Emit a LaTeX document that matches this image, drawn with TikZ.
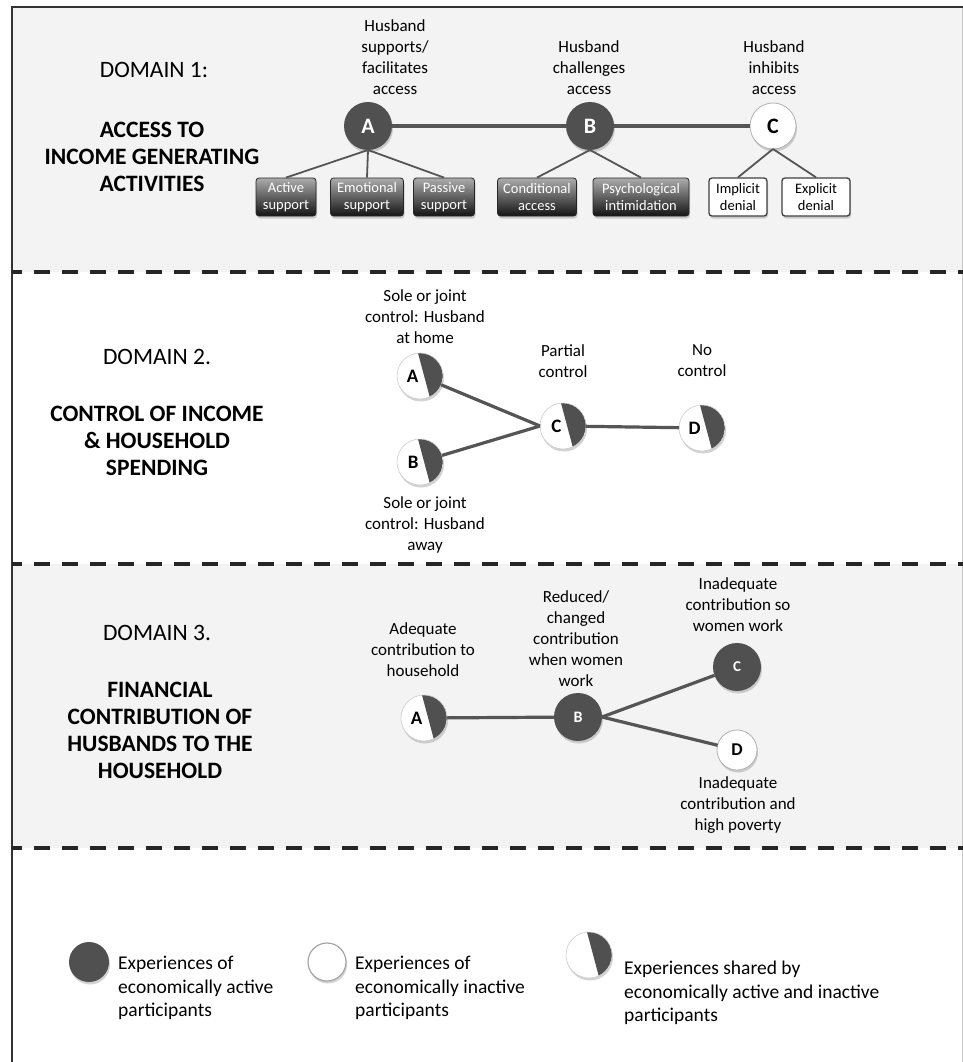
\documentclass[tikz,border=0pt]{standalone}
\usepackage{fontspec}
\setmainfont{Carlito}
\usetikzlibrary{shadows,calc}
\definecolor{dk}{HTML}{505050}
\definecolor{bg}{HTML}{F3F3F3}
\definecolor{ln}{HTML}{555555}
\newcommand{\lft}[1]{\makebox[0pt][r]{#1\hspace{1.5pt}}}
\begin{document}
\begin{tikzpicture}[x=1pt,y=1pt,
  lbl/.style={align=center, font=\fontsize{17}{21}\selectfont, inner sep=0},
  dom/.style={align=center, font=\fontsize{23.5}{27}\selectfont, inner sep=0},
  domb/.style={align=center, font=\fontsize{23.5}{27}\selectfont\bfseries, inner sep=0},
  shd/.style={drop shadow={opacity=0.35, shadow xshift=1pt, shadow yshift=-2.5pt}},
  darkc/.style={circle, minimum size=#1, inner sep=0, outer sep=0, fill=dk, text=white, font=\fontsize{22}{22}\selectfont\bfseries, shd},
  whitec/.style={circle, minimum size=#1, inner sep=0, outer sep=0, fill=white, draw=gray!60, line width=0.8pt, text=black, font=\fontsize{22}{22}\selectfont\bfseries, shd},
  halfc/.style={circle, minimum size=#1, inner sep=0, outer sep=0, fill=white, draw=gray!40, line width=0.6pt, text=black, font=\fontsize{19}{19}\selectfont\bfseries, shd,
    path picture={\fill[dk] ($(path picture bounding box.center)+(95:0.5*#1)$) arc[start angle=95, end angle=-65, radius=0.5*#1] -- cycle;}},
  darkbox/.style={rounded corners=3pt, top color=gray!65, bottom color=black!92, draw=black!85, line width=0.8pt, text=white, minimum height=38pt, minimum width=#1, inner sep=1pt, align=center, font=\fontsize{14.5}{17.5}\selectfont, shd},
  whitebox/.style={rounded corners=3pt, fill=white, draw=black!75, line width=1.3pt, text=black, minimum height=38pt, minimum width=#1, inner sep=1pt, align=center, font=\fontsize{14.5}{17.5}\selectfont, shd},
  conn/.style={draw=ln, line width=3.2pt},
  subconn/.style={draw=ln, line width=1.8pt},
  sep/.style={line width=4pt, dash pattern=on 16pt off 12pt, dash phase=6pt, draw=black!85},
  legtxt/.style={anchor=west, align=left, font=\fontsize{19.5}{23.5}\selectfont, inner sep=0}
]
\useasboundingbox (0,0) rectangle (963,-1062);
% panels
\fill[bg] (12,-7) rectangle (963,-272);
\fill[bg] (12,-564) rectangle (963,-848);
\draw[gray!45, line width=0.8pt] (962,-7) -- (962,-1062);
\draw[black!80, line width=2pt] (12,-1062) -- (12,-7) -- (963,-7);
% separators
\coordinate (s1l) at (12,-272); \coordinate (s1r) at (963,-272);
\coordinate (s2l) at (12,-564); \coordinate (s2r) at (963,-564);
\coordinate (s3l) at (12,-848); \coordinate (s3r) at (963,-848);
\draw[sep] (s1l) -- (s1r);
\draw[sep] (s2l) -- (s2r);
\draw[sep] (s3l) -- (s3r);

% ---------- Domain 1
\node[dom] (d1) at (154,-70) {DOMAIN 1:};
\node[domb] (d1t) at (152,-157) {ACCESS TO\\INCOME GENERATING\\ACTIVITIES};
\node[lbl] (l1a) at (395,-57.5) {Husband\\supports/\\facilitates\\access};
\node[lbl] (l1b) at (589,-68) {Husband\\challenges\\access};
\node[lbl] (l1c) at (774,-68) {Husband\\inhibits\\access};

\node[darkc=48pt] (a1) at (368,-126) {A};
\node[darkc=48pt] (b1) at (590,-126) {B};
\node[whitec=46pt] (c1) at (773,-126) {C};

\node[darkbox=60pt] (act) at (286,-197) {Active\\support};
\node[darkbox=73pt] (emo) at (367,-197) {Emotional\\support};
\node[darkbox=61pt] (pas) at (444,-197) {Passive\\support};
\node[darkbox=79pt] (cnd) at (537,-197) {Conditional\\access};
\node[darkbox=96pt] (psy) at (641,-197) {Psychological\\intimidation};
\node[whitebox=58pt] (imp) at (738,-197) {Implicit\\denial};
\node[whitebox=68pt] (exd) at (816,-197) {Explicit\\denial};

\draw[conn] (a1) -- (b1);
\draw[conn] (b1) -- (c1);
\draw[subconn] (a1.south) -- (act.north);
\draw[subconn] (a1.south) -- (emo.north);
\draw[subconn] (a1.south) -- (pas.north);
\draw[subconn] (b1.south) -- (cnd.north);
\draw[subconn] (b1.south) -- (psy.north);
\draw[subconn] (c1.south) -- (imp.north);
\draw[subconn] (c1.south) -- (exd.north);

% ---------- Domain 2
\node[dom] (d2) at (157,-357) {DOMAIN 2.};
\node[domb] (d2t) at (157,-441) {CONTROL OF INCOME\\\& HOUSEHOLD\\SPENDING};
\node[lbl] (l2a) at (425,-317) {Sole or joint\\control: Husband\\at home};
\node[lbl] (l2c) at (563,-361) {Partial\\control};
\node[lbl] (l2d) at (702,-361) {No\\control};
\node[lbl] (l2b) at (425,-525) {Sole or joint\\control: Husband\\away};

\node[halfc=46pt] (n2a) at (420,-376) {\lft{A}};
\node[halfc=46pt] (n2b) at (420,-462) {\lft{B}};
\node[halfc=46pt] (n2c) at (563,-426) {\lft{C}};
\node[halfc=46pt] (n2d) at (702,-428) {\lft{D}};
\draw[conn] (n2a) -- (n2c.west);
\draw[conn] (n2b) -- (n2c.west);
\draw[conn] (n2c) -- (n2d);

% ---------- Domain 3
\node[dom] (d3) at (157,-633) {DOMAIN 3.};
\node[domb] (d3t) at (160,-730) {FINANCIAL\\CONTRIBUTION OF\\HUSBANDS TO THE\\HOUSEHOLD};
\node[lbl] (l3a) at (423,-650) {Adequate\\contribution to\\household};
\node[lbl] (l3b) at (576,-639) {Reduced/\\changed\\contribution\\when women\\work};
\node[lbl] (l3c) at (738,-605) {Inadequate\\contribution so\\women work};
\node[lbl] (l3d) at (738,-805) {Inadequate\\contribution and\\high poverty};

\node[halfc=46pt] (n3a) at (424,-718) {\lft{A}};
\node[darkc=48pt, font=\fontsize{16}{16}\selectfont\bfseries] (n3b) at (578,-717) {B};
\node[darkc=48pt, font=\fontsize{15}{15}\selectfont\bfseries] (n3c) at (737,-667) {C};
\node[whitec=40pt, font=\fontsize{18}{18}\selectfont\bfseries] (n3d) at (737,-750) {D};
\draw[conn] (n3a) -- (n3b);
\draw[conn] (n3b.east) -- (n3c);
\draw[conn] (n3b.east) -- (n3d);

% ---------- Legend
\node[darkc=40pt] (lg1) at (89,-962) {};
\node[whitec=38pt, line width=1.2pt, draw=gray!70] (lg2) at (327,-962) {};
\node[halfc=46pt] (lg3) at (589,-955) {};
\node[legtxt] (lt1) at (118,-988) {Experiences of\\economically active\\participants};
\node[legtxt] (lt2) at (355,-988) {Experiences of\\economically inactive\\participants};
\node[legtxt] (lt3) at (624,-993) {Experiences shared by\\economically active and inactive\\participants};
\end{tikzpicture}
\end{document}
